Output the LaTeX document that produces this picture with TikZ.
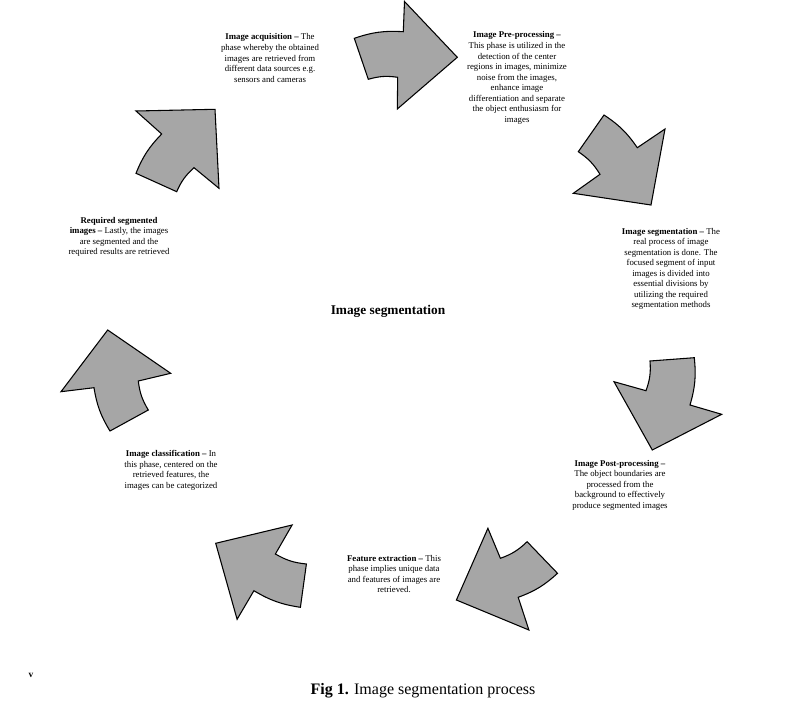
\documentclass[tikz,border=0pt]{standalone}
\usepackage{fontspec}
\setmainfont{Liberation Serif}
\definecolor{arrowgray}{RGB}{166,166,166}
\tikzset{
  arrowshape/.style={fill=arrowgray, draw=black, line width=0.8pt, line join=miter},
  outerbend/.style={bend left=11},
  innerbend/.style={bend right=12},
  desc/.style={align=center, inner sep=0pt, font=\fontsize{6.6}{7.9}\selectfont},
  titletext/.style={inner sep=0pt, font=\fontsize{10}{12}\selectfont\bfseries},
  captext/.style={inner sep=0pt, font=\fontsize{12}{14}\selectfont},
}
\begin{document}
\begin{tikzpicture}[x=0.75pt,y=-0.75pt]
\useasboundingbox (0,0) rectangle (797,725);
\fill[white] (0,0) rectangle (797,725);

% arrow 1 (top, pointing right)
\draw[arrowshape] (354.3,38.3) to[outerbend] (403.3,31.7) -- (404.5,1.5) -- (457.3,57.3) -- (397.3,109) -- (397.7,77.3) to[innerbend] (368.3,79.3) -- cycle;
% arrow 2 (upper right)
\draw[arrowshape] (604,115) to[outerbend] (637.3,147.7) -- (665,129) -- (651,205) -- (573.3,193.3) -- (600,174.3) to[innerbend] (578.3,151.7) -- cycle;
% arrow 3 (right)
\draw[arrowshape] (694.3,357.7) to[outerbend] (690,405) -- (721.7,414.3) -- (652.3,450) -- (614,381.7) -- (646,390.7) to[innerbend] (650,361) -- cycle;
% arrow 4 (bottom right)
\draw[arrowshape] (487.9,528.3) -- (500.4,558.3) to[innerbend] (527.1,541.7) -- (557.5,573.3) to[outerbend] (518.2,597.3) -- (528.9,630) -- (456.4,600) -- cycle;
% arrow 5 (bottom left)
\draw[arrowshape] (215.7,543.3) -- (292.1,525) -- (275.4,554) to[innerbend] (306.4,564) -- (300.4,607.3) to[outerbend] (253.9,590.7) -- (237.1,619.3) -- cycle;
% arrow 6 (left)
\draw[arrowshape] (107.7,330) -- (170.7,373.3) -- (138.3,381) to[innerbend] (148.3,410) -- (110,431) to[outerbend] (94,387.7) -- (61,391.7) -- cycle;
% arrow 7 (upper left)
\draw[arrowshape] (136,111) -- (215,109.3) -- (219,188.3) -- (194,167.7) to[innerbend] (176.7,191.7) -- (136,173.3) to[outerbend] (161.7,134) -- cycle;

\node[desc] (acq) at (270,58) {\textbf{Image acquisition –} The\\phase whereby the obtained\\images are retrieved from\\different data sources e.g.\\sensors and cameras};
\node[desc] (pre) at (517,78) {\textbf{Image Pre-processing –}\\This phase is utilized in the\\detection of the center\\regions in images, minimize\\noise from the images,\\enhance image\\differentiation and separate\\the object enthusiasm for\\images};
\node[desc] (seg) at (671,269) {\textbf{Image segmentation –} The\\real process of image\\segmentation is done. The\\focused segment of input\\images is divided into\\essential divisions by\\utilizing the required\\segmentation methods};
\node[desc] (post) at (620,485) {\textbf{Image Post-processing –}\\The object boundaries are\\processed from the\\background to effectively\\produce segmented images};
\node[desc] (feat) at (394,574) {\textbf{Feature extraction –} This\\phase implies unique data\\and features of images are\\retrieved.};
\node[desc] (cls) at (171,470.5) {\textbf{Image classification –} In\\this phase, centered on the\\retrieved features, the\\images can be categorized};
\node[desc] (req) at (119,237) {\textbf{Required segmented}\\\textbf{images –} Lastly, the images\\are segmented and the\\required results are retrieved};

\node[titletext] (title) at (388,311) {Image segmentation};
\node[captext] (cap) at (423,691) {\textbf{Fig 1.} Image segmentation process};
\node[inner sep=0pt, font=\fontsize{7}{8}\selectfont\bfseries] (v) at (31,675) {v};
\end{tikzpicture}
\end{document}
